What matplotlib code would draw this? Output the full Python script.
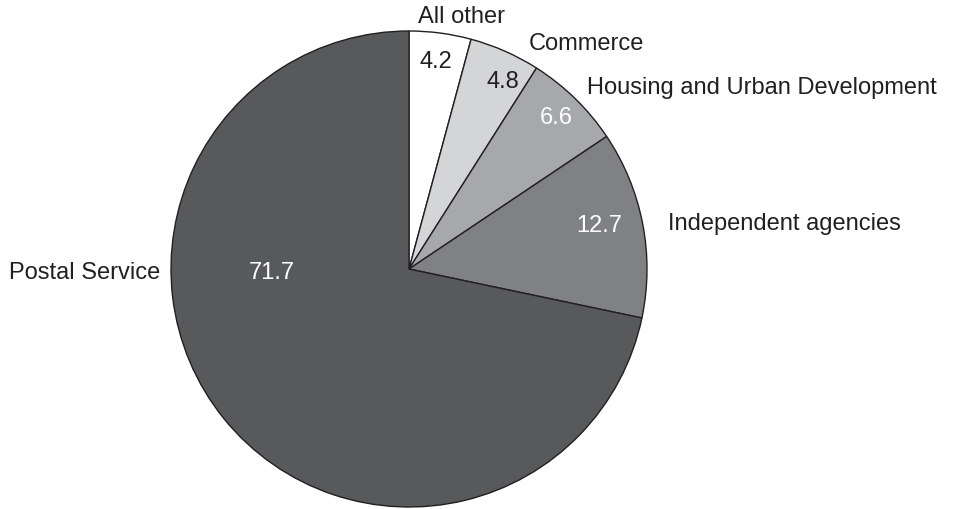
"""Pie chart: shares by agency (percent)."""

import matplotlib
matplotlib.use("Agg")
import matplotlib.pyplot as plt  # noqa: E402

categories = ["All other", "Commerce", "Housing and Urban Development",
              "Independent agencies", "Postal Service"]
values = [4.2, 4.8, 6.6, 12.7, 71.7]
colors = ["#ffffff", "#d4d5d7", "#a7a8ab", "#808184", "#58595b"]
pct_colors = ["#231f20", "#231f20", "#ffffff", "#ffffff", "#ffffff"]

W, H = 960, 510
CX, CY, R = 409, 270, 238

# label placement in pixel coords (x, y from top), alignment
name_pos = [(462, 17, "center"), (586, 44, "center"), (587, 88, "left"),
            (668, 224, "left"), (160, 273, "right")]
pct_pos = [(436, 62), (503, 82), (556, 118), (599, 226), (272, 273)]

plt.rcParams["font.family"] = ["Liberation Sans", "DejaVu Sans"]
FS = 17

fig = plt.figure(figsize=(W / 100, H / 100), dpi=100)
ax = fig.add_axes([0, 0, 1, 1])

ax.pie(values, colors=colors, startangle=90, counterclock=False, radius=1,
       wedgeprops=dict(edgecolor="#231f20", linewidth=1.0))
ax.set_xlim(-CX / R, (W - CX) / R)
ax.set_ylim(-(H - CY) / R, CY / R)
ax.set_aspect("equal")
ax.axis("off")


def to_data(px, py):
    return (px - CX) / R, (CY - py) / R


for name, (px, py, ha) in zip(categories, name_pos):
    x, y = to_data(px, py)
    ax.text(x, y, name, ha=ha, va="center", fontsize=FS, color="#231f20")

for v, (px, py), c in zip(values, pct_pos, pct_colors):
    x, y = to_data(px, py)
    ax.text(x, y, f"{v:.1f}", ha="center", va="center", fontsize=FS, color=c)

fig.savefig("out.png", dpi=100, facecolor="white")
plt.close(fig)
